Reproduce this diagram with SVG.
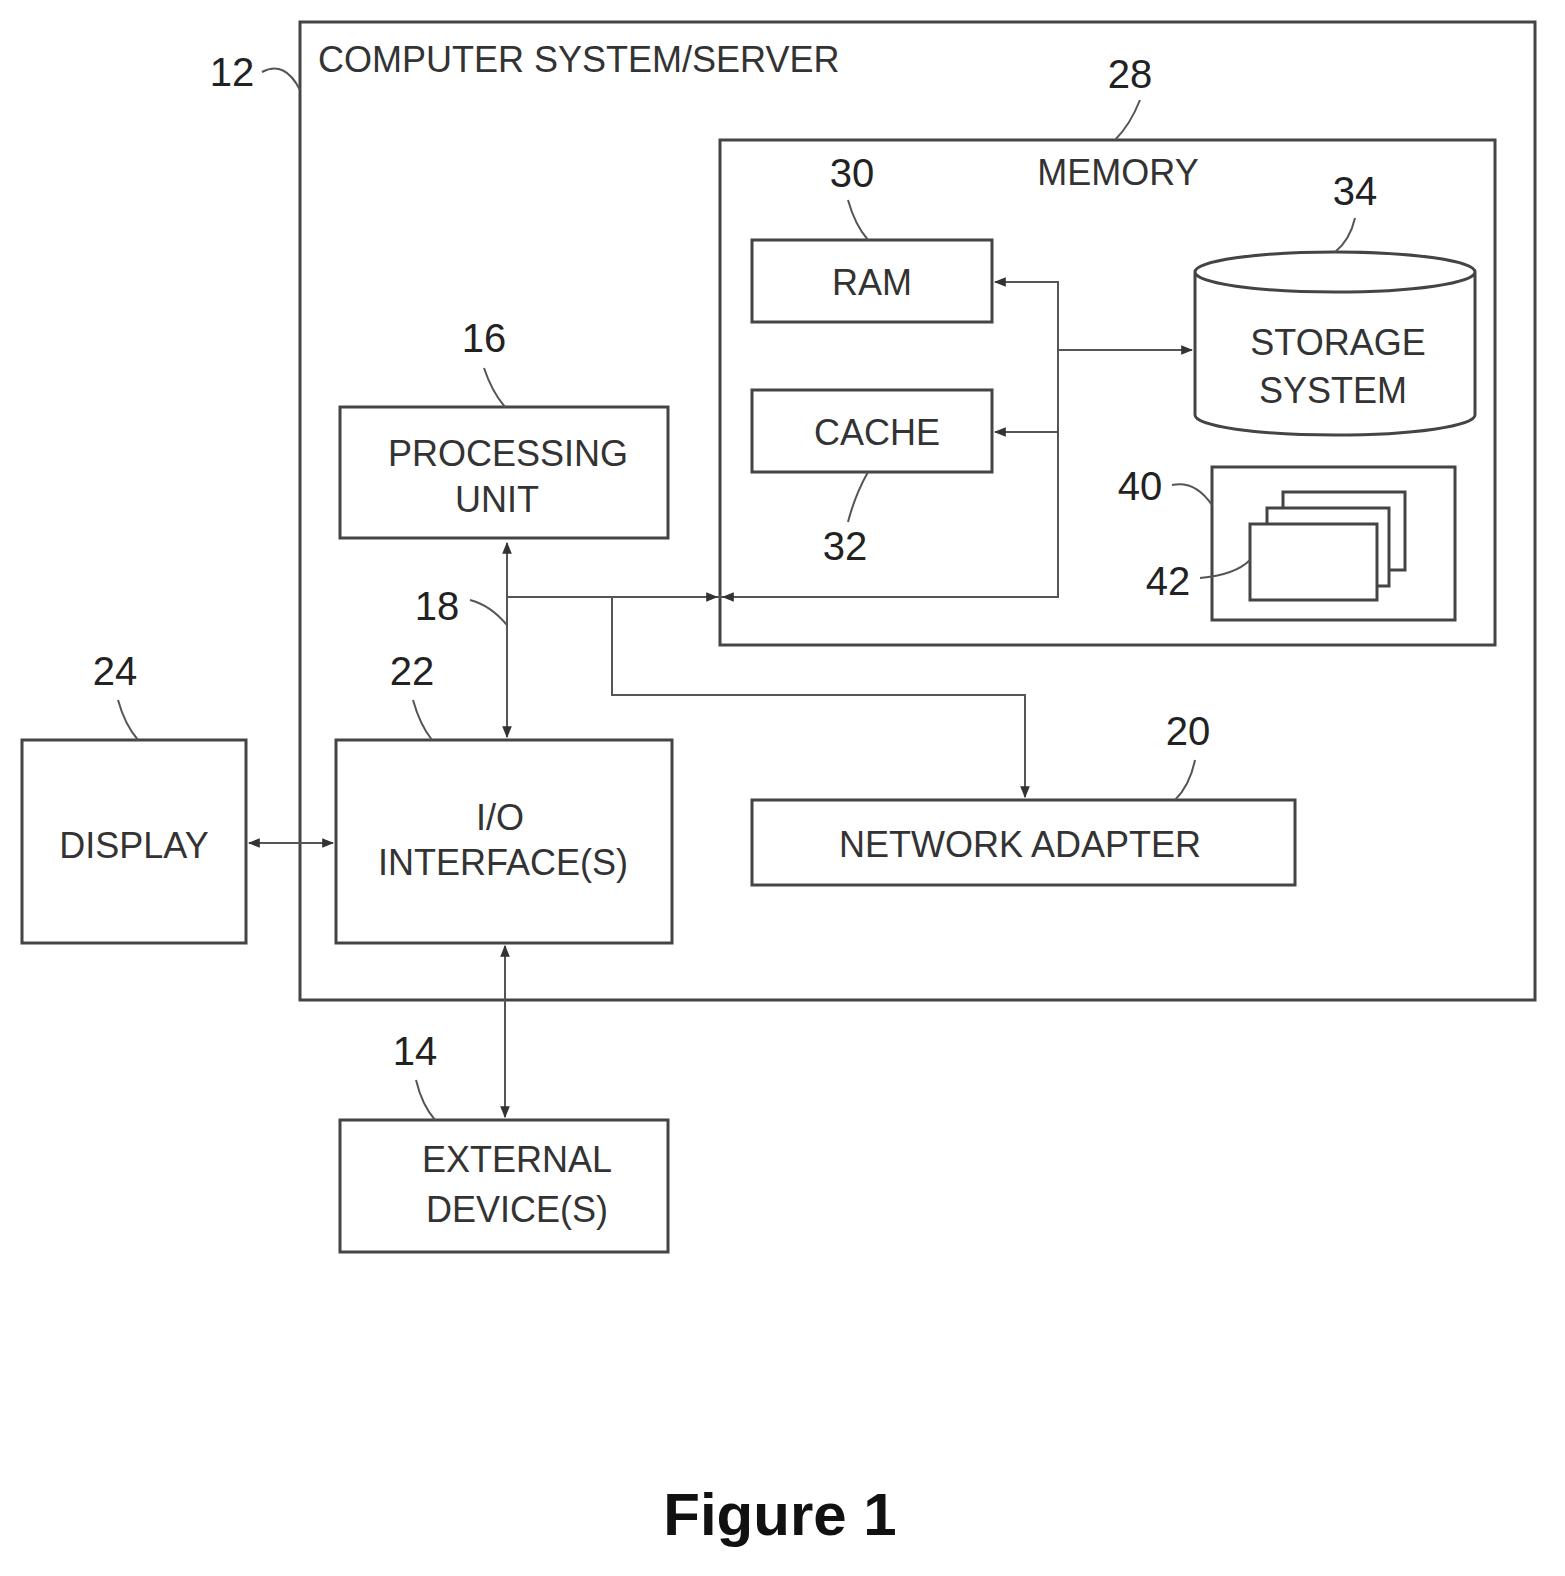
<svg xmlns="http://www.w3.org/2000/svg" width="1565" height="1576" viewBox="0 0 1565 1576">
<style>
.b{fill:#fff;stroke:#444;stroke-width:3}
.l{fill:none;stroke:#555;stroke-width:2}
.t{font-family:"Liberation Sans",Arial,sans-serif;font-size:36px;fill:#333;text-anchor:middle}
.n{font-family:"Liberation Sans",Arial,sans-serif;font-size:40px;fill:#222;text-anchor:middle}
</style>
<defs>
<marker id="a" viewBox="0 0 10 10" refX="9" refY="5" markerWidth="6" markerHeight="6" orient="auto-start-reverse"><path d="M0,1 L10,5 L0,9 z" fill="#333"/></marker>
</defs>
<rect width="1565" height="1576" fill="#fff"/>
<g id="n12"><rect class="b" x="300" y="22" width="1235" height="978"/>
<text class="t" x="318" y="72" style="text-anchor:start">COMPUTER SYSTEM/SERVER</text>
<text class="n" x="232" y="86">12</text><path class="l" d="M262,72 Q285,60 300,90"/></g>
<g id="n28"><rect class="b" x="720" y="140" width="775" height="505"/>
<text class="t" x="1118" y="185">MEMORY</text>
<text class="n" x="1130" y="88">28</text><path class="l" d="M1140,100 Q1130,125 1115,140"/></g>
<g id="n30"><rect class="b" x="752" y="240" width="240" height="82"/><text class="t" x="872" y="295">RAM</text>
<text class="n" x="852" y="187">30</text><path class="l" d="M848,200 Q855,225 868,240"/></g>
<g id="n32"><rect class="b" x="752" y="390" width="240" height="82"/><text class="t" x="877" y="445">CACHE</text>
<text class="n" x="845" y="560">32</text><path class="l" d="M848,522 Q855,495 868,472"/></g>
<g id="n34"><path class="b" d="M1195,272 L1195,415 A140,20 0 0 0 1475,415 L1475,272 A140,20 0 0 0 1195,272 A140,20 0 0 0 1475,272"/>
<text class="t" x="1338" y="355">STORAGE</text><text class="t" x="1333" y="403">SYSTEM</text>
<text class="n" x="1355" y="205">34</text><path class="l" d="M1355,218 Q1350,240 1335,252"/></g>
<g id="n40"><rect class="b" x="1212" y="467" width="243" height="153"/>
<text class="n" x="1140" y="500">40</text><path class="l" d="M1172,485 Q1195,480 1212,505"/></g>
<g id="n42"><rect class="b" x="1283" y="492" width="122" height="78"/><rect class="b" x="1267" y="508" width="122" height="78"/><rect class="b" x="1250" y="524" width="127" height="76"/>
<text class="n" x="1168" y="595">42</text><path class="l" d="M1200,578 Q1235,575 1250,560"/></g>
<g id="n16"><rect class="b" x="340" y="407" width="328" height="131"/>
<text class="t" x="508" y="466">PROCESSING</text><text class="t" x="497" y="512">UNIT</text>
<text class="n" x="484" y="352">16</text><path class="l" d="M484,368 Q492,392 505,407"/></g>
<g id="n22"><rect class="b" x="336" y="740" width="336" height="203"/>
<text class="t" x="500" y="830">I/O</text><text class="t" x="503" y="875">INTERFACE(S)</text>
<text class="n" x="412" y="685">22</text><path class="l" d="M413,700 Q420,725 432,740"/></g>
<g id="n20"><rect class="b" x="752" y="800" width="543" height="85"/><text class="t" x="1020" y="857">NETWORK ADAPTER</text>
<text class="n" x="1188" y="745">20</text><path class="l" d="M1195,760 Q1190,785 1175,800"/></g>
<g id="n24"><rect class="b" x="22" y="740" width="224" height="203"/><text class="t" x="134" y="858">DISPLAY</text>
<text class="n" x="115" y="685">24</text><path class="l" d="M118,700 Q125,725 138,740"/></g>
<g id="n14"><rect class="b" x="340" y="1120" width="328" height="132"/>
<text class="t" x="517" y="1172">EXTERNAL</text><text class="t" x="517" y="1222">DEVICE(S)</text>
<text class="n" x="415" y="1065">14</text><path class="l" d="M416,1080 Q422,1105 435,1120"/></g>
<g id="connectors">
<path class="l" d="M507,543 L507,737" marker-start="url(#a)" marker-end="url(#a)"/>
<path class="l" d="M507,597 L1058,597 L1058,282 L995,282" marker-end="url(#a)"/>
<path class="l" d="M1058,432 L995,432" marker-end="url(#a)"/>
<path class="l" d="M1058,350 L1192,350" marker-end="url(#a)"/>
<path class="l" d="M690,597 L717,597" marker-end="url(#a)"/>
<path class="l" d="M745,597 L723,597" marker-end="url(#a)"/>
<path class="l" d="M612,597 L612,695 L1025,695 L1025,797" marker-end="url(#a)"/>
<path class="l" d="M249,843 L333,843" marker-start="url(#a)" marker-end="url(#a)"/>
<path class="l" d="M505,946 L505,1117" marker-start="url(#a)" marker-end="url(#a)"/>
<text class="n" x="437" y="620">18</text><path class="l" d="M470,600 Q490,605 507,625"/>
</g>
<text x="780" y="1535" style="font-family:'Liberation Sans',Arial,sans-serif;font-size:60px;font-weight:bold;text-anchor:middle" fill="#111">Figure 1</text>
</svg>
